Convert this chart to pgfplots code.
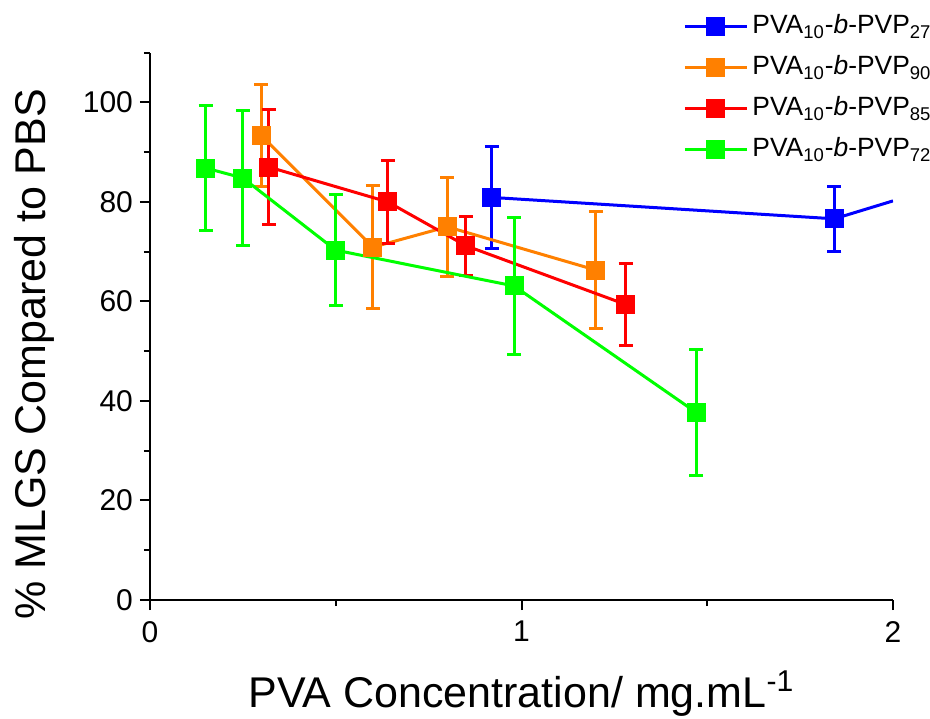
\documentclass[border=0pt]{standalone}
\usepackage{pgfplots}
\pgfplotsset{compat=1.18}
\usepackage{fontspec}
\setmainfont{Liberation Sans}

\definecolor{cblue}{RGB}{0,0,255}
\definecolor{corange}{RGB}{255,128,0}
\definecolor{cred}{RGB}{255,0,0}
\definecolor{cgreen}{RGB}{0,255,0}

\begin{document}
\begin{tikzpicture}
\begin{axis}[
    name=ax,
    scale only axis,
    width=371.5pt, height=273.7pt,
    xmin=0, xmax=2, ymin=0, ymax=110,
    axis x line*=bottom, axis y line*=left,
    axis line style={line width=1pt},
    xtick={0,1,2}, minor xtick={0.5,1.5},
    ytick={0,20,...,100}, minor ytick={10,30,...,110},
    tick align=outside,
    major tick length=5pt, minor tick length=3pt,
    tick style={line width=1pt, black},
    /pgf/number format/assume math mode=true,
    ticklabel style={font=\fontsize{15}{15}\selectfont},
    xticklabel style={yshift=-2pt},
    xlabel={PVA Concentration/ mg.mL\textsuperscript{-1}},
    ylabel={\% MLGS Compared to PBS},
    label style={font=\fontsize{21.5}{21.5}\selectfont},
    xlabel style={at={(axis description cs:0.5,-0.1955)}, anchor=base},
    ylabel style={at={(axis description cs:-0.1413,0.449)}, anchor=base},
    every axis plot/.append style={line width=1.5pt, mark size=4pt},
    error bars/error bar style={line width=1.5pt},
    error bars/error mark options={rotate=90, mark size=3.5pt, line width=1.5pt},
    legend image code/.code={%
        \draw[mark repeat=2, mark phase=2, #1] plot coordinates {(0pt,0pt) (15.5pt,0pt) (31pt,0pt)};},
    legend style={draw=none, fill=none, inner sep=0pt,
        at={(axis description cs:0.7174,1.0705)}, anchor=north west,
        font=\fontsize{13.2}{13.2}\selectfont, row sep=8pt, column sep=2pt,
        nodes={inner sep=0pt, text height=9.5pt, text depth=3pt}},
    legend cell align=left,
]
\addplot[cblue, mark=square*, error bars/.cd, y dir=both, y explicit]
  coordinates {(0.92,80.9) +- (0,10.2) (1.842,76.6) +- (0,6.5)};
\addlegendentry{PVA\textsubscript{10}-\textit{b}-PVP\textsubscript{27}}
\addplot[corange, mark=square*, error bars/.cd, y dir=both, y explicit]
  coordinates {(0.30,93.3) +- (0,10.3) (0.60,70.9) +- (0,12.3) (0.80,75.0) +- (0,10.0) (1.20,66.3) +- (0,11.7)};
\addlegendentry{PVA\textsubscript{10}-\textit{b}-PVP\textsubscript{90}}
\addplot[cred, mark=square*, error bars/.cd, y dir=both, y explicit]
  coordinates {(0.32,87.0) +- (0,11.5) (0.64,80.0) +- (0,8.4) (0.85,71.2) +- (0,5.9) (1.28,59.4) +- (0,8.2)};
\addlegendentry{PVA\textsubscript{10}-\textit{b}-PVP\textsubscript{85}}
\addplot[cgreen, mark=square*, error bars/.cd, y dir=both, y explicit]
  coordinates {(0.15,86.8) +- (0,12.5) (0.25,84.8) +- (0,13.6) (0.50,70.3) +- (0,11.2) (0.98,63.1) +- (0,13.8) (1.47,37.7) +- (0,12.6)};
\addlegendentry{PVA\textsubscript{10}-\textit{b}-PVP\textsubscript{72}}
% blue line runs on past the last point and is cut at the axis end
\addplot[cblue, forget plot] coordinates {(1.842,76.6) (2.0,80.2)};
\end{axis}
% page = reference frame: axis origin 75pt from left, 59pt from bottom
\pgfresetboundingbox
\path (ax.south west) ++(-75pt,-59pt) rectangle ++(465pt,359pt);
\end{tikzpicture}
\end{document}
